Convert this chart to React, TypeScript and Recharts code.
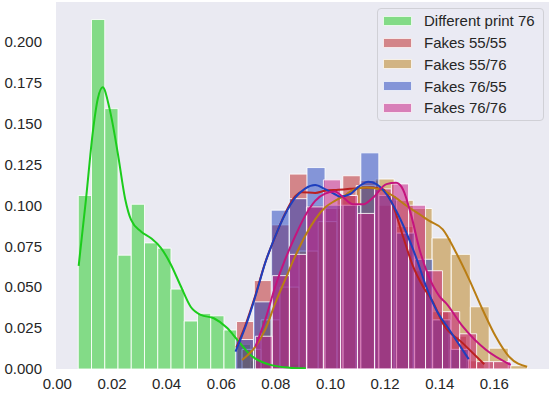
import React from 'react';
import {
  ComposedChart,
  XAxis,
  YAxis,
  CartesianGrid,
  Line,
  ReferenceArea,
  Legend
} from 'recharts';

const FONT = '"Liberation Sans", Arial, sans-serif';

const xTicks = [0, 0.02, 0.04, 0.06, 0.08, 0.1, 0.12, 0.14, 0.16];
const yTicks = [0, 0.025, 0.05, 0.075, 0.1, 0.125, 0.15, 0.175, 0.2];

const labels = ['Different print 76', 'Fakes 55/55', 'Fakes 55/76', 'Fakes 76/55', 'Fakes 76/76'];
const colors = ['#1ccc1c', '#bb2020', '#b97d14', '#1e3fbe', '#c5147e'];

// histogram bin edges and probabilities
const diffEdges = [0.00765, 0.0125, 0.01735, 0.0222, 0.02705, 0.0319, 0.03675, 0.0416, 0.04645, 0.0513, 0.05615, 0.061, 0.06585, 0.0707, 0.07555, 0.0804, 0.08525, 0.0901];
const diffProb = [0.106, 0.2134, 0.159, 0.0695, 0.1006, 0.077, 0.0738, 0.0488, 0.0293, 0.034, 0.0325, 0.0238, 0.015, 0.005, 0.003, 0.001, 0.003];

const f5555Edges = [0.0656, 0.0721, 0.0785, 0.085, 0.0915, 0.098, 0.1045, 0.1109, 0.1174, 0.1239, 0.1304, 0.1369, 0.1433, 0.1498, 0.1563];
const f5555Prob = [0.029, 0.054, 0.088, 0.119, 0.1, 0.098, 0.118, 0.115, 0.1, 0.087, 0.06, 0.035, 0.02, 0.005];

const f5576Edges = [0.0676, 0.0746, 0.0815, 0.0885, 0.0955, 0.1024, 0.1094, 0.1164, 0.1233, 0.1303, 0.1372, 0.1442, 0.1512, 0.1581, 0.1651, 0.172];
const f5576Prob = [0.012, 0.03, 0.05, 0.072, 0.09, 0.106, 0.112, 0.116, 0.103, 0.098, 0.08, 0.07, 0.038, 0.0127, 0.002];

const f7655Edges = [0.0652, 0.0718, 0.0783, 0.0849, 0.0914, 0.098, 0.1046, 0.1111, 0.1177, 0.1242, 0.1308, 0.1374, 0.1439, 0.1505];
const f7655Prob = [0.018, 0.041, 0.097, 0.104, 0.123, 0.1, 0.1, 0.132, 0.106, 0.083, 0.067, 0.03, 0.012];

const f7676Edges = [0.0725, 0.0787, 0.085, 0.0912, 0.0974, 0.1037, 0.1099, 0.1161, 0.1223, 0.1286, 0.1348, 0.141, 0.1473, 0.1535, 0.1597, 0.166];
const f7676Prob = [0.02, 0.057, 0.07, 0.099, 0.1155, 0.106, 0.095, 0.11, 0.113, 0.1, 0.06, 0.035, 0.0215, 0.0045, 0.0045];

// kde curves [x, y]
const diffKde = [
  [0.0078, 0.063], [0.0105, 0.104], [0.013, 0.145], [0.0148, 0.165], [0.0166, 0.172],
  [0.0191, 0.159], [0.0221, 0.132], [0.0248, 0.104], [0.027, 0.091], [0.0306, 0.084],
  [0.0342, 0.08], [0.0379, 0.074], [0.0415, 0.064], [0.0452, 0.0505], [0.0488, 0.038],
  [0.0525, 0.033], [0.0573, 0.031], [0.0622, 0.025], [0.0658, 0.018], [0.0707, 0.0085],
  [0.078, 0.0025], [0.085, 0.0008], [0.091, 0.0004]
];
const f5555Kde = [
  [0.0655, 0.013], [0.0689, 0.027], [0.0725, 0.045], [0.0761, 0.065], [0.0798, 0.081],
  [0.0834, 0.095], [0.0871, 0.1055], [0.0895, 0.108], [0.0944, 0.1075], [0.098, 0.1088],
  [0.1028, 0.1094], [0.1071, 0.11], [0.1144, 0.1108], [0.1192, 0.1098], [0.1229, 0.0997],
  [0.1265, 0.0812], [0.1302, 0.0628], [0.1338, 0.0505], [0.1374, 0.0413], [0.1411, 0.028],
  [0.1484, 0.0158], [0.1563, 0.0029]
];
const f5576Kde = [
  [0.0676, 0.0055], [0.0725, 0.0137], [0.0761, 0.024], [0.0798, 0.0403], [0.0834, 0.0546],
  [0.0871, 0.0689], [0.0907, 0.0812], [0.0944, 0.0914], [0.098, 0.0986], [0.1016, 0.1027],
  [0.1053, 0.106], [0.1083, 0.1094], [0.1132, 0.1108], [0.118, 0.1098], [0.1229, 0.1057],
  [0.1278, 0.0997], [0.1326, 0.0945], [0.1362, 0.0904], [0.1411, 0.0853], [0.146, 0.071],
  [0.1508, 0.0546], [0.1557, 0.0362], [0.1605, 0.0198], [0.1654, 0.0075], [0.172, 0.0014]
];
const f7655Kde = [
  [0.0652, 0.0106], [0.0689, 0.026], [0.0725, 0.0444], [0.0761, 0.0648], [0.0798, 0.0812],
  [0.0834, 0.0945], [0.0871, 0.1047], [0.0907, 0.1102], [0.0944, 0.1123], [0.098, 0.1098],
  [0.1016, 0.1067], [0.1035, 0.1053], [0.1071, 0.1067], [0.1107, 0.1118], [0.1138, 0.1143],
  [0.1168, 0.1129], [0.1205, 0.1067], [0.1241, 0.0965], [0.1278, 0.0832], [0.1314, 0.0679],
  [0.135, 0.0505], [0.1387, 0.0362], [0.1435, 0.024], [0.1506, 0.006]
];
const f7676Kde = [
  [0.0725, 0.0137], [0.0761, 0.03], [0.0798, 0.0505], [0.0834, 0.0669], [0.0871, 0.0812],
  [0.0907, 0.0935], [0.0944, 0.1027], [0.098, 0.1071], [0.1016, 0.1084], [0.1047, 0.1047],
  [0.1083, 0.1006], [0.112, 0.1006], [0.1156, 0.1047], [0.1205, 0.1129], [0.124, 0.1137],
  [0.1265, 0.1098], [0.1296, 0.0935], [0.1326, 0.073], [0.1362, 0.0556], [0.1399, 0.0444],
  [0.1423, 0.0402], [0.1484, 0.026], [0.1569, 0.0117], [0.166, 0.0025]
];

const histograms = [
  { edges: diffEdges, prob: diffProb },
  { edges: f5555Edges, prob: f5555Prob },
  { edges: f5576Edges, prob: f5576Prob },
  { edges: f7655Edges, prob: f7655Prob },
  { edges: f7676Edges, prob: f7676Prob }
];
const kdes = [diffKde, f5555Kde, f5576Kde, f7655Kde, f7676Kde];

const hexToRgba = (hex: string, a: number) => {
  const n = parseInt(hex.slice(1), 16);
  return `rgba(${(n >> 16) & 255},${(n >> 8) & 255},${n & 255},${a})`;
};

const LegendBox = () => (
  <div
    style={{
      background: 'rgba(234,234,242,0.8)',
      border: '1px solid #d0d0d6',
      borderRadius: 4,
      padding: '1px 6px 3px 5px',
      fontFamily: FONT,
      fontSize: 15,
      color: '#262626',
      boxSizing: 'border-box',
      width: 167,
      height: 113
    }}
  >
    {labels.map((label, i) => (
      <div key={label} style={{ display: 'flex', alignItems: 'center', height: 21.75 }}>
        <span
          style={{
            display: 'inline-block',
            width: 29,
            height: 10,
            background: hexToRgba(colors[i], 0.5),
            border: '1px solid rgba(255,255,255,0.8)',
            boxSizing: 'border-box',
            marginRight: 12
          }}
        />
        <span>{label}</span>
      </div>
    ))}
  </div>
);

export default function App() {
  const tickStyle = { fill: '#262626', fontSize: 15, fontFamily: FONT };
  return (
    <div style={{ position: 'absolute', left: 0, top: 0 }}>
      <ComposedChart
        width={552}
        height={399}
        margin={{ top: 2, right: 3, bottom: 0, left: 0 }}
        style={{ fontFamily: FONT }}
      >
        <rect x={56} y={2} width={493} height={367} fill="#eaeaf2" />
        <CartesianGrid stroke="#ffffff" strokeWidth={1.3} fill="#eaeaf2" />
        <XAxis
          type="number"
          dataKey="x"
          domain={[-0.0005, 0.18]}
          ticks={xTicks}
          tickFormatter={(v: number) => v.toFixed(2)}
          axisLine={false}
          tickLine={false}
          tickSize={0}
          tickMargin={9}
          height={30}
          tick={tickStyle}
          allowDataOverflow
        />
        <YAxis
          type="number"
          domain={[0, 0.2241]}
          ticks={yTicks}
          tickFormatter={(v: number) => v.toFixed(3)}
          axisLine={false}
          tickLine={false}
          tickSize={0}
          tickMargin={14}
          width={56}
          tick={tickStyle}
          allowDataOverflow
        />
        {histograms.map((h, s) =>
          h.prob.map((p, i) => (
            <ReferenceArea
              key={`bar-${s}-${i}`}
              x1={h.edges[i]}
              x2={h.edges[i + 1]}
              y1={0}
              y2={p}
              fill={colors[s]}
              fillOpacity={0.5}
              stroke="#ffffff"
              strokeOpacity={0.85}
              strokeWidth={1}
              ifOverflow="visible"
            />
          ))
        )}
        {kdes.map((k, s) => (
          <Line
            key={`kde-${s}`}
            data={k.map(([x, y]) => ({ x, y }))}
            dataKey="y"
            type="monotone"
            stroke={colors[s]}
            strokeWidth={2}
            dot={false}
            activeDot={false}
            isAnimationActive={false}
          />
        ))}
        <Legend
          layout="horizontal"
          verticalAlign="middle"
          align="center"
          wrapperStyle={{ top: 8, left: 377, width: 167, height: 113 }}
          content={() => <LegendBox />}
        />
      </ComposedChart>
    </div>
  );
}
